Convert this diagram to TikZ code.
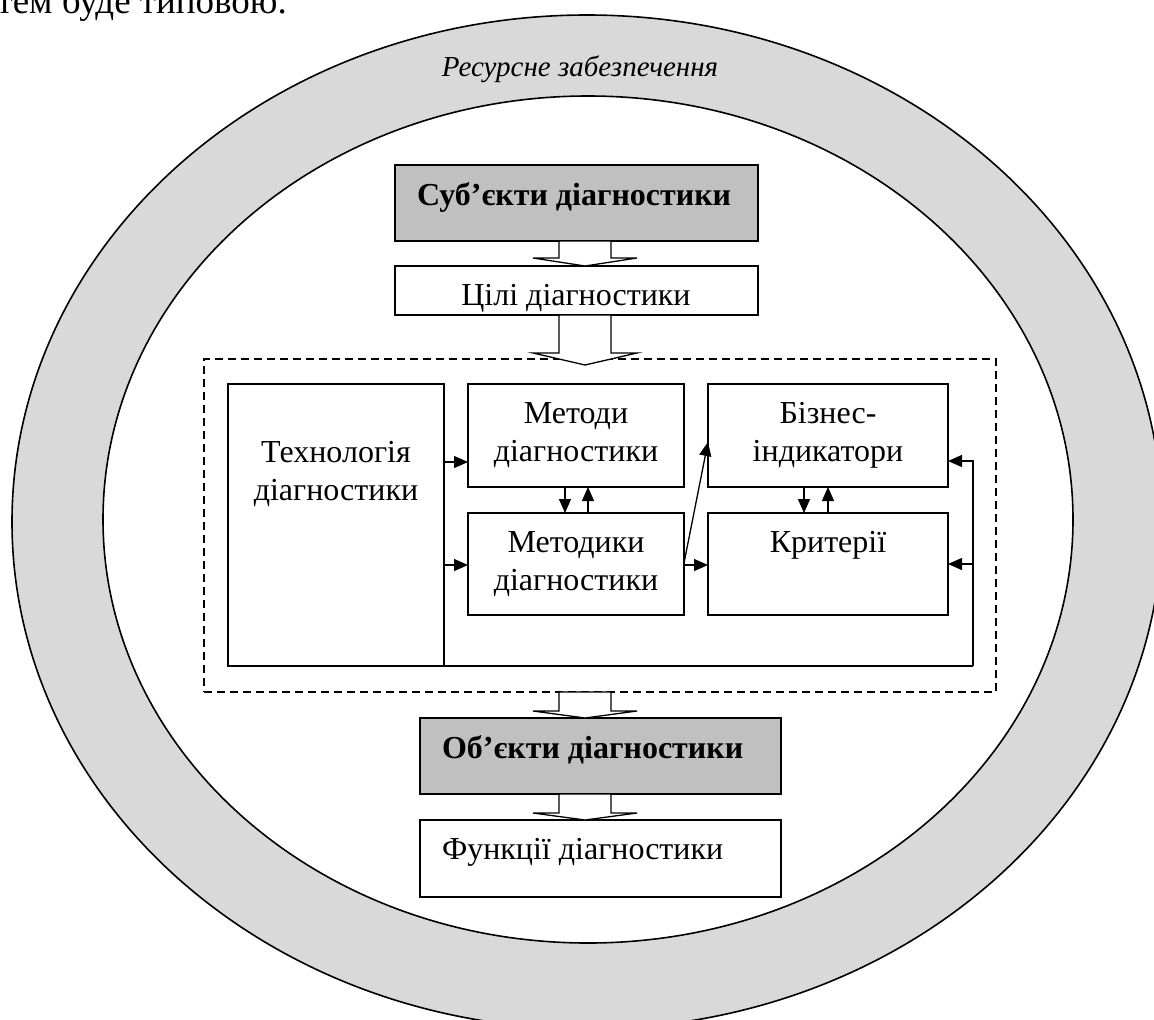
\documentclass[tikz,border=0pt]{standalone}
\usepackage{fontspec}
\setmainfont{Liberation Serif}
\usetikzlibrary{arrows.meta,calc}
\definecolor{ringgray}{RGB}{217,217,217}
\definecolor{boxgray}{RGB}{192,192,192}
\tikzset{
  frame/.style={draw=black, line width=1.6pt, inner sep=0pt, outer sep=0pt, fill=white},
  grayframe/.style={frame, fill=boxgray},
  lbl/.style={inner sep=0pt, outer sep=0pt, font=\fontsize{32}{38}\selectfont, anchor=base},
  arr/.style={line width=1.3pt, -{Triangle[length=14pt,width=12pt]}},
  blk/.style={draw=black, line width=1.3pt, fill=white, line join=miter},
  dbox/.style={draw=black, line width=1.3pt, dash pattern=on 8pt off 5pt, inner sep=0pt, outer sep=0pt},
  ringline/.style={draw=black, line width=1.6pt},
}
\newcommand{\blkarrow}[3]{%
  \draw[blk] ($(#1)+(-26,0)$) -- ($(#2)+(-26,-#3)$) -- ($(#2)+(-52,-#3)$) -- (#2)
    -- ($(#2)+(52,-#3)$) -- ($(#2)+(26,-#3)$) -- ($(#1)+(26,0)$) -- cycle;}
\begin{document}
\begin{tikzpicture}[x=1pt,y=-1pt]
\useasboundingbox (0,0) rectangle (1154,1020);
\clip (0,0) rectangle (1154,1020);
\fill[white] (0,0) rectangle (1154,1020);

% resource ring
\fill[ringgray, even odd rule] (587,522) ellipse [x radius=575pt, y radius=507pt]
  (588,519.5) ellipse [x radius=485pt, y radius=423.5pt];
\draw[ringline] (587,522) ellipse [x radius=575pt, y radius=507pt];
\draw[ringline] (588,519.5) ellipse [x radius=485pt, y radius=423.5pt];
\node[inner sep=0pt, anchor=base, font=\itshape\fontsize{29}{34}\selectfont] (res) at (580,76) {Ресурсне забезпечення};

% cut text line at top
\node[inner sep=0pt, anchor=base east, font=\fontsize{37}{42}\selectfont] (toptext) at (287,13) {тем буде типовою.};

% boxes
\node[grayframe, minimum width=363pt, minimum height=76pt] (subj) at (576.5,203) {};
\node[frame, minimum width=363pt, minimum height=49pt] (goals) at (576.5,290.5) {};
\node[dbox, minimum width=792pt, minimum height=333pt] (dash) at (600,525.5) {};
\node[frame, minimum width=216pt, minimum height=282pt] (tech) at (336,525) {};
\node[frame, minimum width=216pt, minimum height=103pt] (meth) at (576,435.5) {};
\node[frame, minimum width=216pt, minimum height=102pt] (methk) at (576,564) {};
\node[frame, minimum width=240pt, minimum height=103pt] (biz) at (828,435.5) {};
\node[frame, minimum width=240pt, minimum height=102pt] (crit) at (828,564) {};
\node[grayframe, minimum width=361pt, minimum height=76pt] (obj) at (600.5,756) {};
\node[frame, minimum width=361pt, minimum height=77pt] (func) at (600.5,858.5) {};

% labels
\node[lbl, anchor=base west, font=\bfseries\fontsize{32}{38}\selectfont] (lsubj) at (417,205) {Суб’єкти діагностики};
\node[lbl] (lgoals) at (576,305) {Цілі діагностики};
\node[lbl] (ltech) at (336,462) {\begin{tabular}[t]{@{}c@{}}Технологія\\діагностики\end{tabular}};
\node[lbl] (lmeth) at (576,423) {\begin{tabular}[t]{@{}c@{}}Методи\\діагностики\end{tabular}};
\node[lbl] (lmethk) at (576,552) {\begin{tabular}[t]{@{}c@{}}Методики\\діагностики\end{tabular}};
\node[lbl] (lbiz) at (828,423) {\begin{tabular}[t]{@{}c@{}}Бізнес-\\індикатори\end{tabular}};
\node[lbl] (lcrit) at (828,552) {Критерії};
\node[lbl, anchor=base west, font=\bfseries\fontsize{32}{38}\selectfont] (lobj) at (442,758) {Об’єкти діагностики};
\node[lbl, anchor=base west] (lfunc) at (442,859) {Функції діагностики};

% block arrows
\coordinate (ax) at (585,0);
\coordinate (a1s) at (ax |- subj.south);
\coordinate (a1e) at (ax |- goals.north);
\coordinate (a2s) at (ax |- goals.south);
\coordinate (a2e) at ($(ax |- dash.north)+(0,6)$);
\coordinate (a3s) at (ax |- dash.south);
\coordinate (a3e) at (ax |- obj.north);
\coordinate (a4s) at (ax |- obj.south);
\coordinate (a4e) at (ax |- func.north);
\blkarrow{a1s}{a1e}{8}
\blkarrow{a2s}{a2e}{12}
\blkarrow{a3s}{a3e}{7}
\blkarrow{a4s}{a4e}{7}

% inner connectors
\draw[arr] (tech.east |- 0,462) -- (meth.west |- 0,462);
\draw[arr] (tech.east |- 0,565) -- (methk.west |- 0,565);
\draw[arr] (meth.south -| 565,0) -- (methk.north -| 565,0);
\draw[arr] (methk.north -| 588,0) -- (meth.south -| 588,0);
\draw[arr] (methk.east |- 0,565) -- (crit.west |- 0,565);
\draw[arr] (methk.east |- 0,563) -- (biz.west |- 0,442);
\draw[arr] (biz.south -| 804,0) -- (crit.north -| 804,0);
\draw[arr] (crit.north -| 828,0) -- (biz.south -| 828,0);

% feedback line
\coordinate (fbc) at (973,666);
\draw[line width=1.3pt] (tech.south east) -- (fbc);
\draw[arr] (fbc) |- (biz.east |- 0,461);
\draw[arr] (fbc |- 0,564) -- (crit.east |- 0,564);
\end{tikzpicture}
\end{document}
